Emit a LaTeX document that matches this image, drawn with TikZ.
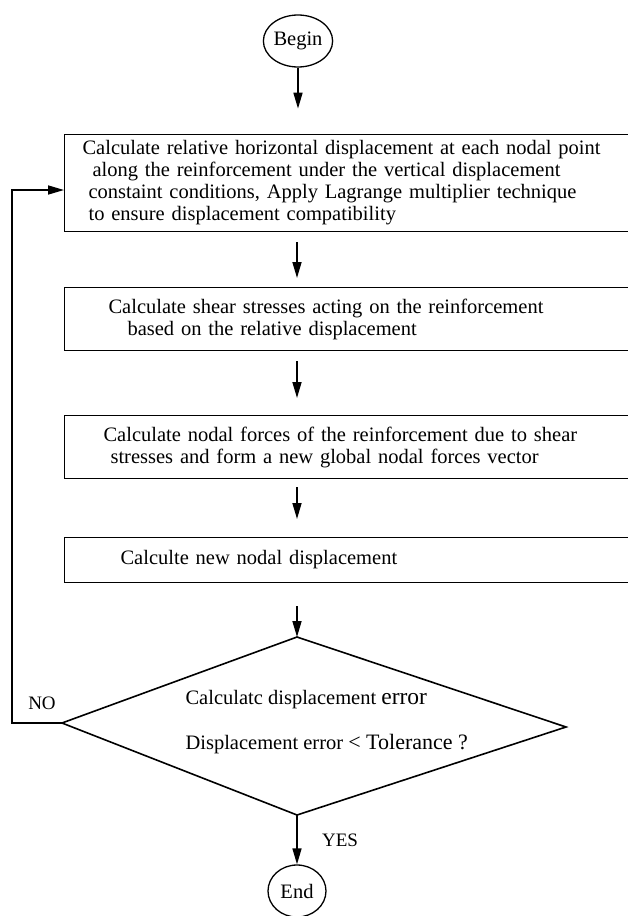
\documentclass[tikz,border=0pt]{standalone}
\usepackage{fontspec}
\setmainfont{Liberation Serif}
\usetikzlibrary{arrows.meta,shapes.geometric,calc}
\tikzset{
  procbox/.style={draw, line width=1.1pt, rectangle, anchor=north west, align=left,
    text width=560pt, inner ysep=0pt, font=\fontsize{20.5}{22}\selectfont},
  terminal/.style={draw, ellipse, line width=1.3pt, inner sep=0pt,
    minimum width=60pt, minimum height=52pt, font=\fontsize{20.5}{22}\selectfont},
  flow/.style={line width=1.6pt, -{Triangle[length=16pt,width=9pt]}},
  decision/.style={line width=1.6pt},
  tag/.style={font=\fontsize{19}{20}\selectfont},
}
\begin{document}
\begin{tikzpicture}[x=1pt,y=-1pt]
\useasboundingbox (0,0) rectangle (628,916);
% start
\node[terminal] (begin) at (298,41) {Begin};
% the four steps
\node[procbox, minimum height=97pt, inner xsep=18pt] (relative) at (64,134)
  {Calculate relative horizontal displacement at each nodal point\\
   \hspace*{10pt}along the reinforcement under the vertical displacement\\
   \hspace*{6pt}constaint conditions, Apply Lagrange multiplier technique\\
   \hspace*{6pt}to ensure displacement compatibility};
\node[procbox, minimum height=63pt, inner xsep=44pt] (shear) at (64,287)
  {Calculate shear stresses acting on the reinforcement\\
   \hspace*{19pt}based on the relative displacement};
\node[procbox, minimum height=63pt, inner xsep=39pt] (forces) at (64,415)
  {Calculate nodal forces of the reinforcement due to shear\\
   \hspace*{7pt}stresses and form a new global nodal forces vector};
\node[procbox, minimum height=45pt, inner xsep=56pt] (newdisp) at (64,537)
  {Calculte new nodal displacement};
% test
\coordinate (dtop) at (297,637);
\coordinate (dright) at (566,727);
\coordinate (dbot) at (297,815);
\coordinate (dleft) at (62,723);
\draw[decision] (dtop) -- (dright) -- (dbot) -- (dleft) -- cycle;
\node[anchor=west, align=left, font=\fontsize{20.5}{22}\selectfont] (check) at (182,722)
  {Calculatc displacement {\fontsize{23.5}{22}\selectfont error}\\[23pt]
   Displacement error {\fontsize{22}{22}\selectfont < Tolerance ?}};
\node[tag] (no) at (42,703) {NO};
\node[tag] (yes) at (340,840) {YES};
% stop
\node[terminal, minimum width=58pt] (end) at (297,891) {End};
% connectors
\draw[flow] (begin) -- ($(begin.south)+(0,41)$);
\draw[flow] ($(relative.south -| dtop)+(0,10)$) -- ($(shear.north -| dtop)+(0,-9)$);
\draw[flow] ($(shear.south -| dtop)+(0,10)$) -- ($(forces.north -| dtop)+(0,-17)$);
\draw[flow] ($(forces.south -| dtop)+(0,8)$) -- ($(newdisp.north -| dtop)+(0,-18)$);
\draw[flow] ($(newdisp.south -| dtop)+(0,23)$) -- (dtop);
\draw[flow] (dbot) -- (end);
\coordinate (loopcorner) at (12,723);
\coordinate (loopin) at (64,190);
\draw[flow] (dleft) -- (loopcorner) |- (loopin);
\end{tikzpicture}
\end{document}
